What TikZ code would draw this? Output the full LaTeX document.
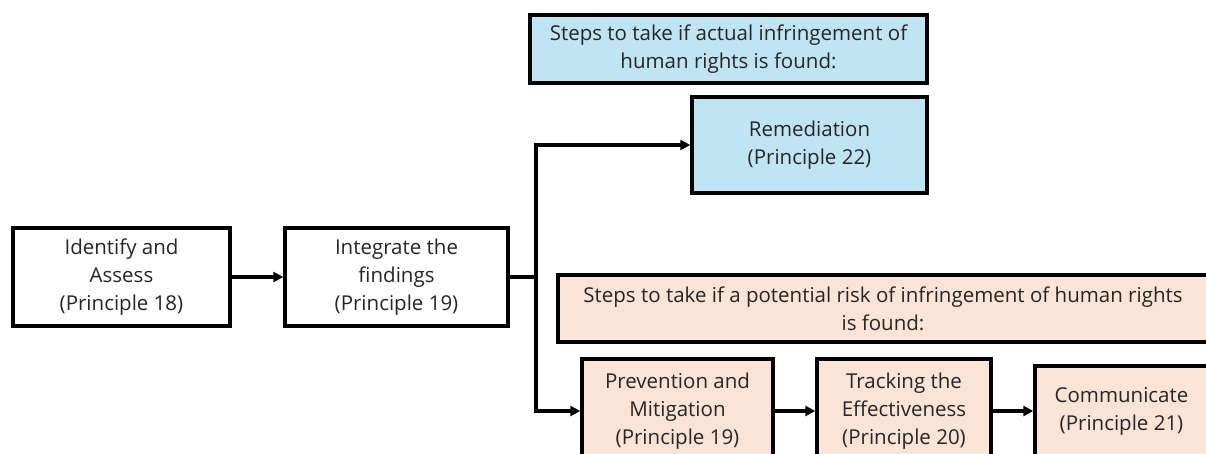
\documentclass[tikz,border=0pt]{standalone}
\usepackage{fontspec}
\setmainfont{Open Sans}
\usetikzlibrary{arrows.meta,positioning}

\definecolor{actblue}{HTML}{C1E4F5}
\definecolor{riskpeach}{HTML}{FBE3D6}

\begin{document}
\begin{tikzpicture}[
  x=1pt, y=-1pt,
  box/.style={rectangle, draw, line width=3.4pt, align=center, text=black!85,
    font=\fontsize{20.5}{28}\selectfont, inner sep=0pt},
  arr/.style={-{Triangle[length=10pt,width=10pt]}, line width=3.1pt},
  conn/.style={line width=3.1pt}
]
\clip (0,0) rectangle (1206,453);
\fill[white] (0,0) rectangle (1206,453);

% main line
\node[box, minimum width=217pt, minimum height=98pt] (ident) at (121.5,277) {Identify and\\Assess\\(Principle 18)};
\node[box, minimum width=223pt, minimum height=98pt] (integ) at (396.5,277) {Integrate the\\findings\\(Principle 19)};

% actual infringement
\node[box, fill=actblue, minimum width=397pt, minimum height=68pt] (bhead) at (728.5,49) {Steps to take if actual infringement of\\human rights is found:};
\node[box, fill=actblue, minimum width=235pt, minimum height=96pt] (remed) at (809.5,145) {Remediation\\(Principle 22)};

% potential risk
\node[box, fill=riskpeach, minimum width=650pt, minimum height=67pt] (phead) at (883,308.5) {Steps to take if a potential risk of infringement of human rights\\is found:};
\node[box, fill=riskpeach, minimum width=191pt, minimum height=104pt] (prev) at (677.5,411) {Prevention and\\Mitigation\\(Principle 19)};
\node[box, fill=riskpeach, minimum width=174pt, minimum height=104pt] (track) at (904,411) {Tracking the\\Effectiveness\\(Principle 20)};
\node[box, fill=riskpeach, minimum width=173pt, minimum height=90pt] (comm) at (1121.5,411) {Communicate\\(Principle 21)};

\coordinate (split) at (536,277);

\draw[arr] (ident) -- (integ);
\draw[conn] (integ.east) -- (split);
\draw[arr] (split) |- (remed.west);
\draw[arr] (split) |- (prev.west);
\draw[arr] (prev) -- (track);
\draw[arr] (track) -- (comm);
\end{tikzpicture}
\end{document}
